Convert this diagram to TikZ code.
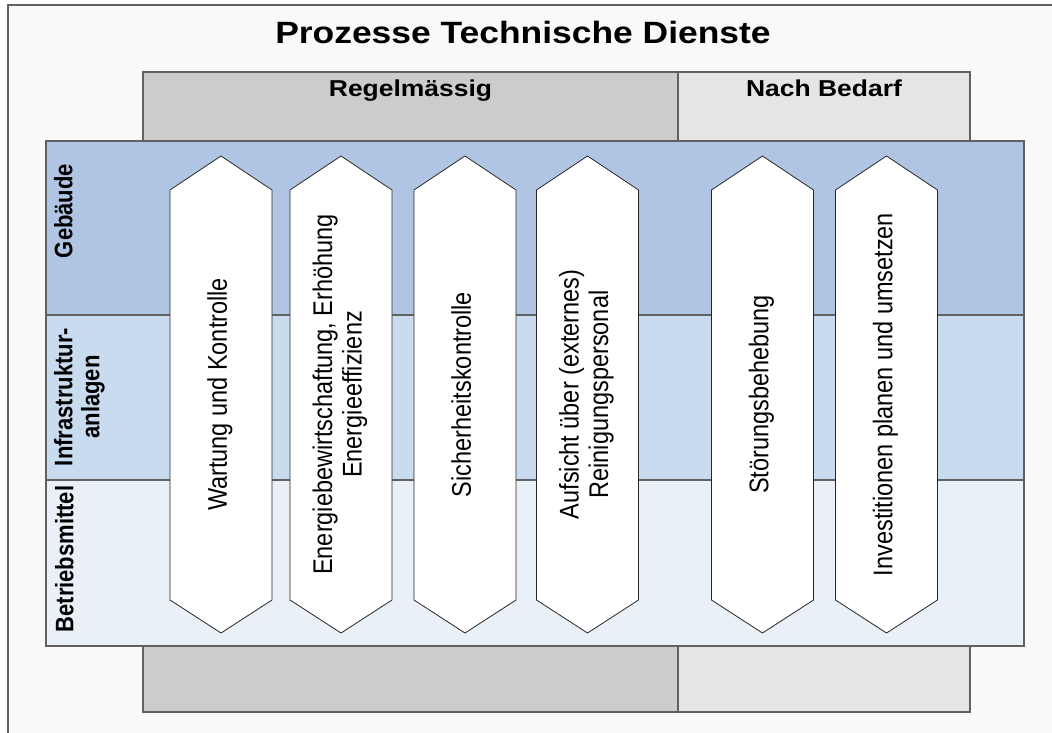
\documentclass[tikz,border=0pt]{standalone}
\usepackage{fontspec}
\setmainfont{Liberation Sans}
\usepackage{graphicx}
\definecolor{paper}{HTML}{F9F9F9}
\definecolor{regelgray}{HTML}{CCCCCC}
\definecolor{bedarfgray}{HTML}{E5E5E5}
\definecolor{rowA}{HTML}{B0C4E3}
\definecolor{rowB}{HTML}{C9DBEE}
\definecolor{rowC}{HTML}{EAF0F8}
\newcommand{\widetext}[1]{\scalebox{1.15}[1]{#1}}
\newcommand{\talltext}[1]{\scalebox{1}[1.15]{\begin{tabular}{@{}c@{}}#1\end{tabular}}}
\tikzset{
  frame/.style={draw=black!62, line width=1.1pt},
  hexbox/.style={draw=black!85, fill=white, line width=0.8pt},
  steptext/.style={rotate=90, inner sep=0pt, font=\fontsize{23.5}{25.5}\selectfont},
  rowtext/.style={rotate=90, inner sep=0pt, font=\fontsize{22}{23.5}\selectfont\bfseries},
  headtext/.style={anchor=base, inner sep=0pt, font=\fontsize{23}{28}\selectfont\bfseries}
}
\begin{document}
\begin{tikzpicture}[x=1pt, y=-1pt]
  \useasboundingbox (0,0) rectangle (1052,733);
  \def \Steps{
    wartung/221/{Wartung und Kontrolle},
    energie/341/{Energiebewirtschaftung, Erhöhung\\Energieeffizienz},
    sicherheit/465/{Sicherheitskontrolle},
    aufsicht/587.5/{Aufsicht über (externes)\\Reinigungspersonal},
    stoerung/762.5/{Störungsbehebung},
    invest/886.5/{Investitionen planen und umsetzen}}
  % frame
  \fill[paper] (8,5) rectangle (1052,733);
  \draw[frame] (8,733) -- (8,5) -- (1052,5);
  % header and footer boxes
  \foreach \xa / \xb / \c in {143/678/regelgray, 678/970/bedarfgray}{
    \filldraw[frame, fill=\c] (\xa,72) rectangle (\xb,141);
    \filldraw[frame, fill=\c] (\xa,646) rectangle (\xb,712);
  }
  % rows
  \foreach \ya / \yb / \c in {141/315/rowA, 315/480/rowB, 480/646/rowC}{
    \filldraw[frame, fill=\c] (46,\ya) rectangle (1024,\yb);
  }
  \node[headtext, font=\fontsize{30.8}{36}\selectfont\bfseries] (title) at (523,44) {\widetext{Prozesse Technische Dienste}};
  \node[headtext] (regel) at (410.5,97) {\widetext{Regelmässig}};
  \node[headtext] (bedarf) at (824,97) {\widetext{Nach Bedarf}};
  \node[rowtext] (gebaeude) at (67,211) {\talltext{Gebäude}};
  \node[rowtext] (infra) at (80.5,397) {\talltext{Infrastruktur-\\anlagen}};
  \node[rowtext] (betrieb) at (68,559) {\talltext{Betriebsmittel}};
  \foreach \id / \x / \t in \Steps{
    \filldraw[hexbox] (\x-51,190) -- (\x,156) -- (\x+51,190) -- (\x+51,600) -- (\x,633) -- (\x-51,600) -- cycle;
    \node[steptext] (\id) at (\x,394.5) {\talltext{\t}};
  }
\end{tikzpicture}
\end{document}
